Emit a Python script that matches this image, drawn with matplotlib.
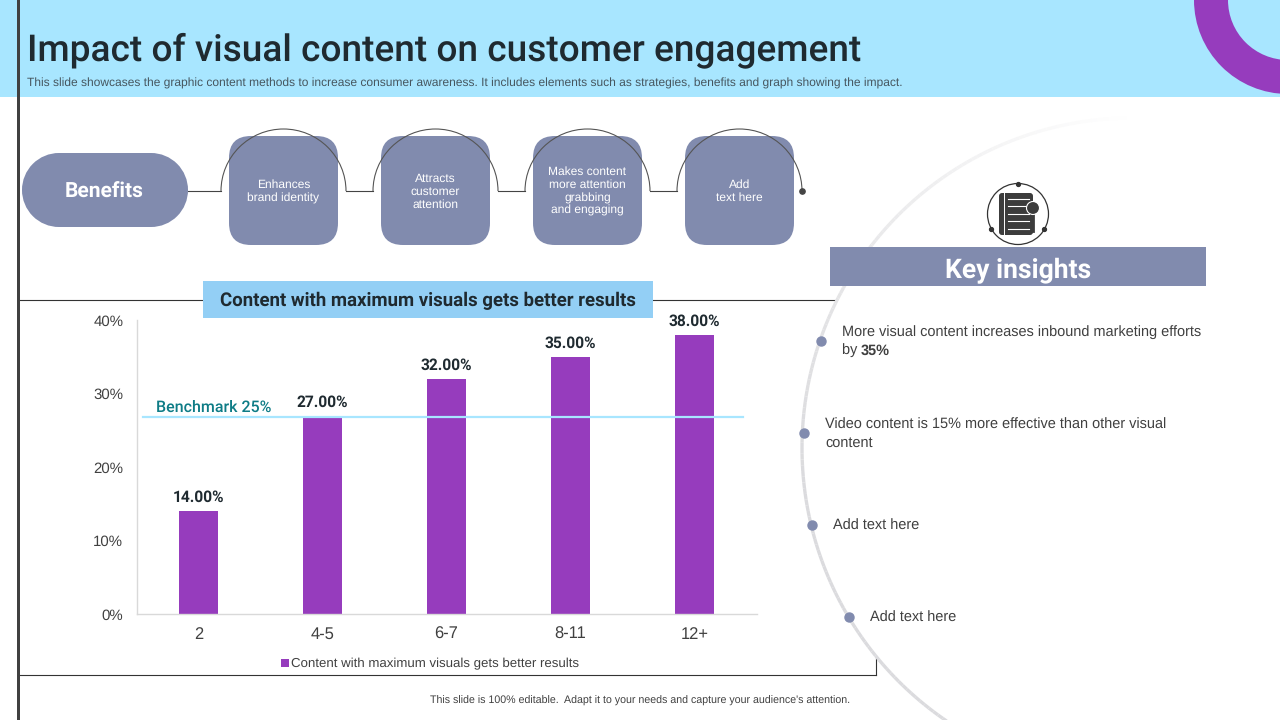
import numpy as np
import matplotlib
matplotlib.use("Agg")
import matplotlib.pyplot as plt
from matplotlib.collections import LineCollection
from matplotlib.patches import Circle, FancyBboxPatch, Arc, Rectangle, Wedge

plt.rcParams['text.hinting'] = 'none'

categories = ['2', '4-5', '6-7', '8-11', '12+']
values = [14, 27, 32, 35, 38]
yticks = [0, 10, 20, 30, 40]
benchmark_pos = 26.8
series_name = 'Content with maximum visuals gets better results'

benefit_labels = ['Enhances\nbrand identity', 'Attracts\ncustomer\nattention',
                  'Makes content\nmore attention\ngrabbing\nand engaging', 'Add\ntext here']

PURPLE = '#963CBD'
SLATE = '#818BAE'
SKY = '#A8E6FF'
BLUE = '#93CFF5'
DARK = '#404040'
INK = '#1F2A30'
HEAD = 'Roboto'
BODY = 'Liberation Sans'

def px(n):
    # font size in pixels to points
    return n * 0.72

fig = plt.figure(figsize=(12.8, 7.2), dpi=100)

# background layer in pixel coordinates
bg = fig.add_axes([0, 0, 1, 1], zorder=0)
bg.set_xlim(0, 1280)
bg.set_ylim(720, 0)
bg.axis('off')

# chart frame, goes under the big circle
bg.plot([20, 876], [300, 300], color='#333333', lw=0.8, zorder=1)
bg.plot([20, 876], [675, 675], color='#333333', lw=0.8, zorder=1)
bg.plot([876, 876], [640, 675], color='#333333', lw=0.8, zorder=1)

# big white circle with a soft edge, strongest at lower left
cx, cy, r = 1132, 448, 330
bg.add_patch(Circle((cx, cy), r, fc='white', ec='none', zorder=2))
ang = np.radians(np.linspace(0, 360, 361))
pts = np.column_stack([cx + r * np.cos(ang), cy + r * np.sin(ang)])
segs = np.stack([pts[:-1], pts[1:]], axis=1)
mid = (ang[:-1] + ang[1:]) / 2
strength = np.clip((np.cos(mid - np.radians(150)) + 0.5) / 1.4, 0, 1)
seg_cols = [(1 - 0.14 * s, 1 - 0.14 * s, 1 - 0.13 * s) for s in strength]
bg.add_collection(LineCollection(segs, colors=seg_cols, linewidths=2.4, zorder=3))

# header
bg.add_patch(Rectangle((0, 0), 1280, 97, fc=SKY, ec='none', zorder=4))
bg.add_patch(Wedge((1288, 0), 94, 90, 270, width=34, fc=PURPLE, ec='none', zorder=5))
bg.add_patch(Rectangle((17, 0), 3, 720, fc=DARK, ec='none', zorder=6))
bg.text(27, 50, 'Impact of visual content on customer engagement', family=HEAD,
        fontweight='medium', fontsize=px(37), color=INK, va='center', ha='left', zorder=7)
bg.text(27, 83.5, 'This slide showcases the graphic content methods to increase consumer awareness. '
        'It includes elements such as strategies, benefits and graph showing the impact.',
        family=BODY, fontsize=px(12), color='#46565F', va='center', zorder=7)

# benefits row
bg.add_patch(Circle((59, 190), 37, fc=SLATE, ec='none', zorder=5))
bg.add_patch(Circle((151, 190), 37, fc=SLATE, ec='none', zorder=5))
bg.add_patch(Rectangle((59, 153), 92, 74, fc=SLATE, ec='none', zorder=5))
bg.text(104, 192, 'Benefits', family=HEAD, fontweight='bold', fontsize=px(21), color='white',
        ha='center', va='center', zorder=7)
box_x = [229, 381, 533, 685]
for x0, lab in zip(box_x, benefit_labels):
    bg.add_patch(FancyBboxPatch((x0 + 22, 136 + 22), 109 - 44, 109 - 44,
                                boxstyle='round,pad=22,rounding_size=22', fc=SLATE, ec='none', zorder=5))
    bg.text(x0 + 54.5, 191.5, lab, family=BODY, fontsize=px(12), color='white', ha='center',
            va='center', linespacing=1.2, zorder=7)
    bg.add_patch(Arc((x0 + 54.5, 191), 125, 124, theta1=180, theta2=360, ec='#555555', lw=0.8, zorder=6))
link_x = [188, 221, 346, 373, 498, 525, 650, 677]
for a, b in zip(link_x[::2], link_x[1::2]):
    bg.plot([a, b], [191, 191], color='#444444', lw=0.8, zorder=6)
bg.plot([801.5], [191], 'o', ms=3.8, color='#444444', zorder=6)

# chart heading
bg.add_patch(Rectangle((203, 281), 450, 37, fc=BLUE, ec='none', zorder=5))
bg.text(427.5, 300.5, series_name, family=HEAD, fontweight='bold', fontsize=px(18.7), color=INK,
        ha='center', va='center', zorder=7)

# icon
bg.add_patch(Circle((1018, 214), 30.5, fc='none', ec='#333333', lw=0.9, zorder=6))
for a, b in [(1018, 184), (991, 229), (1044, 229)]:
    bg.plot([a], [b], 'o', ms=2.8, color='#333333', zorder=7)
bg.add_patch(FancyBboxPatch((1001, 195), 30, 38, boxstyle='round,pad=2,rounding_size=3',
                            fc='#3C3C3C', ec='none', zorder=6))
bg.plot([1003.5, 1003.5], [193, 235], color='white', lw=0.7, zorder=7)
for yy in [199, 206, 214, 221, 229]:
    bg.plot([1008, 1029], [yy, yy], color='white', lw=0.8, zorder=7)
bg.add_patch(Circle((1033, 208), 6.5, fc='#3C3C3C', ec='white', lw=0.8, zorder=8))
bg.plot([1033, 1033], [214, 231], color='#3C3C3C', lw=2, zorder=7)

# key insights
bg.add_patch(Rectangle((830, 247), 376, 39, fc=SLATE, ec='none', zorder=5))
bg.text(1018, 270.5, 'Key insights', family=HEAD, fontweight='bold', fontsize=px(26.5), color='white',
        ha='center', va='center', zorder=7)

bullets = [(821, 341), (804, 433), (812, 525), (849, 617)]
for bx, by in bullets:
    bg.plot([bx], [by], 'o', ms=6.5, color=SLATE, zorder=7)
txt = dict(family=BODY, fontsize=px(14.5), color=DARK, va='center', zorder=7)
bg.text(842, 332.5, 'More visual content increases inbound marketing efforts', **txt)
bg.text(842, 350.5, 'by ', **txt)
bg.text(861, 350.5, '35%', fontweight='bold', **txt)
bg.text(825, 424.5, 'Video content is 15% more effective than other visual', **txt)
bg.text(825, 442.5, 'content', **txt)
bg.text(833, 525.5, 'Add text here', **txt)
bg.text(870, 617.5, 'Add text here', **txt)

bg.text(640.5, 700.5, "This slide is 100% editable.  Adapt it to your needs and capture your audience's attention.",
        family=BODY, fontsize=px(10.6), color=DARK, ha='center', va='center', zorder=7)

# bar chart
ax = fig.add_axes([136.5 / 1280, (720 - 614) / 720, 620 / 1280, 294 / 720], zorder=2)
ax.patch.set_alpha(0)
x = np.arange(len(categories))
ax.bar(x, values, width=0.315, color=PURPLE, label=series_name)
ax.set_xlim(-0.5, 4.5)
ax.set_ylim(0, 40)
ax.set_yticks(yticks)
ax.set_yticklabels([f'{v}%' for v in yticks], family=BODY, fontsize=px(15), color=DARK)
ax.set_xticks(x)
ax.set_xticklabels(categories, family=BODY, fontsize=px(16.5), color=DARK)
ax.tick_params(length=0)
ax.tick_params(axis='y', pad=9.5)
ax.tick_params(axis='x', pad=9)
for s in ['top', 'right']:
    ax.spines[s].set_visible(False)
for s in ['left', 'bottom']:
    ax.spines[s].set_color('#D9D9D9')
    ax.spines[s].set_linewidth(1)
for xi, v in zip(x, values):
    ax.annotate(f'{v:.2f}%', (xi, v), xytext=(0, 4), textcoords='offset points', ha='center', va='bottom',
                family=HEAD, fontweight='bold', fontsize=px(15.5), color=INK)
ax.plot([-0.45, 4.39], [benchmark_pos, benchmark_pos], color=SKY, lw=1.6)
ax.text(-0.34, 28.15, 'Benchmark 25%', family=HEAD, fontweight='medium', fontsize=px(16), color='#0E7C86',
        ha='left', va='center')
leg = ax.legend(loc='upper center', bbox_to_anchor=(0.474, -0.128), frameon=False, ncol=1, handlelength=0.55,
                handleheight=0.55, handletextpad=0.2, prop={'family': BODY, 'size': px(13.3)}, borderpad=0)
for t in leg.get_texts():
    t.set_color(DARK)

fig.savefig('out.png', dpi=100)
